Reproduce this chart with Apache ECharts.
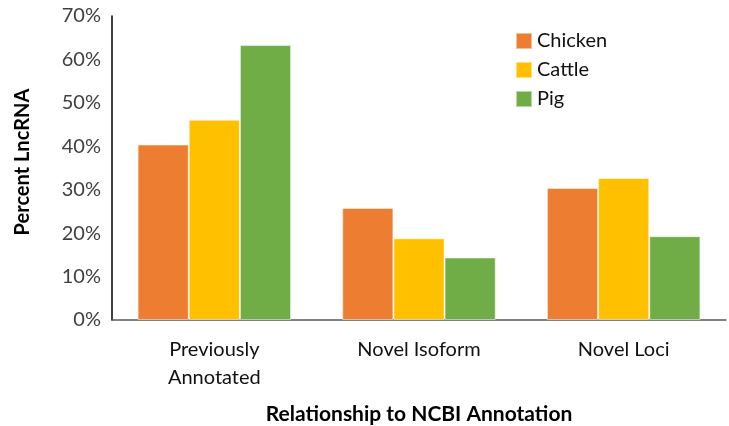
<!DOCTYPE html>
<html><head><meta charset="utf-8">
<script src="https://cdn.jsdelivr.net/npm/echarts@6/dist/echarts.min.js"></script>
<style>html,body{margin:0;padding:0;background:#fff}#c{width:729px;height:426px}</style>
</head><body><div id="c"></div>
<script>
const categories = ['Previously\nAnnotated', 'Novel Isoform', 'Novel Loci'];
const chicken = [40.4, 25.8, 30.4];
const cattle = [46.1, 18.8, 32.7];
const pig = [63.3, 14.4, 19.3];
const yTicks = [0, 10, 20, 30, 40, 50, 60, 70];

const FONT = 'Lato, "Open Sans", sans-serif';
const chart = echarts.init(document.getElementById('c'));
chart.setOption({
  animation: false,
  textStyle: {fontFamily: FONT},
  grid: {left: 112, right: 3, top: 16, bottom: 106, containLabel: false, outerBoundsMode: 'none'},
  legend: {
    orient: 'vertical', left: 510, top: 26, itemWidth: 16, itemHeight: 16, itemGap: 9,
    icon: 'rect',
    textStyle: {fontSize: 20, color: '#111', fontFamily: FONT},
    data: ['Chicken', 'Cattle', 'Pig']
  },
  xAxis: {
    type: 'category', data: categories,
    axisLine: {lineStyle: {color: '#595959', width: 1.5}},
    axisTick: {show: false},
    axisLabel: {fontSize: 20, color: '#111', lineHeight: 28, margin: 16, fontFamily: FONT},
    name: 'Relationship to NCBI Annotation', nameLocation: 'middle', nameGap: 84,
    nameTextStyle: {fontSize: 21, fontWeight: 'bold', color: '#000', fontFamily: FONT}
  },
  yAxis: {
    type: 'value', min: yTicks[0], max: yTicks[yTicks.length-1], interval: 10,
    axisLine: {show: true, lineStyle: {color: '#000', width: 1.5}},
    axisTick: {show: false},
    splitLine: {show: false},
    axisLabel: {fontSize: 20, color: '#404040', margin: 11, formatter: '{value}%', fontFamily: FONT},
    name: 'Percent LncRNA', nameLocation: 'middle', nameGap: 79, nameRotate: 90,
    nameTextStyle: {fontSize: 20, fontWeight: 'bold', color: '#000', fontFamily: FONT, padding: [0, 0, 0, 12]}
  },
  series: [
    {name: 'Chicken', type: 'bar', data: chicken, barGap: '0%', barCategoryGap: '25%',
     itemStyle: {color: '#ED7D31', borderColor: 'rgba(255,255,255,0.5)', borderWidth: 1}},
    {name: 'Cattle', type: 'bar', data: cattle,
     itemStyle: {color: '#FFC000', borderColor: 'rgba(255,255,255,0.5)', borderWidth: 1}},
    {name: 'Pig', type: 'bar', data: pig,
     itemStyle: {color: '#70AD47', borderColor: 'rgba(255,255,255,0.5)', borderWidth: 1}}
  ]
});
</script></body></html>
